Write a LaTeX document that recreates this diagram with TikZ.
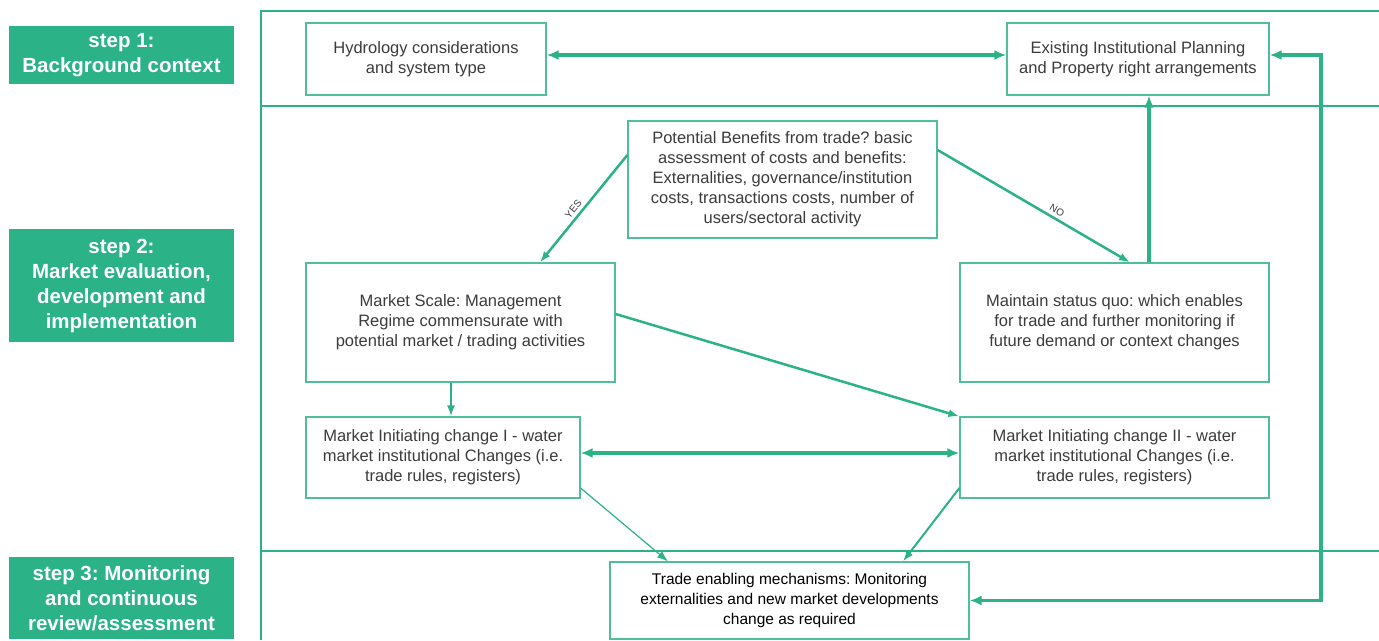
\documentclass[tikz,border=0pt]{standalone}
\usepackage{fontspec}
\setmainfont{Liberation Sans}
\usetikzlibrary{arrows.meta}
\definecolor{grn}{RGB}{43,178,134}
\definecolor{boxgrn}{RGB}{80,190,150}
\definecolor{txt}{RGB}{60,60,60}
\frenchspacing
\begin{document}
\begin{tikzpicture}[x=1pt,y=-1pt,
  box/.style={draw=boxgrn,line width=1.2pt,fill=white,align=center,text=txt,
    font=\fontsize{16.5}{20}\selectfont,inner sep=0pt},
  stepbox/.style={fill=grn,text=white,align=center,inner sep=0pt,
    minimum width=225,font=\bfseries\fontsize{20.5}{25}\selectfont},
  frame/.style={draw=grn,line width=1.5pt},
  conn/.style={draw=grn,-{Latex[length=11pt,width=8pt]}},
  bi/.style={draw=grn,line width=3.5pt,{Latex[length=12pt,width=10pt]}-{Latex[length=12pt,width=10pt]}},
  uni/.style={draw=grn,line width=3.5pt,-{Latex[length=12pt,width=10pt]}},
  lab/.style={font=\fontsize{10}{11}\selectfont,text=txt,sloped,above,inner sep=3pt}
]
\clip (0,0) rectangle (1379,640);
\fill[white] (0,0) rectangle (1379,640);

% frame
\draw[frame] (1379,11) -- (261,11) -- (261,640);
\draw[frame] (261,106) -- (1379,106);
\draw[frame] (261,551) -- (1379,551);

% step labels
\node[stepbox,minimum height=58] (s1) at (121.5,55) {step 1:\\Background context};
\node[stepbox,minimum height=113] (s2) at (121.5,285.5) {step 2:\\Market evaluation,\\development and\\implementation};
\node[stepbox,minimum height=82] (s3) at (121.5,598) {step 3: Monitoring\\and continuous\\review/assessment};

% boxes
\node[box,minimum width=240,minimum height=72] (hyd) at (426,59) {Hydrology considerations\\and system type};
\node[box,minimum width=262,minimum height=72] (ex) at (1138,59) {Existing Institutional Planning\\and Property right arrangements};
\node[box,minimum width=309,minimum height=117] (pot) at (782.5,179.5) {Potential Benefits from trade? basic\\assessment of costs and benefits:\\Externalities, governance/institution\\costs, transactions costs, number of\\users/sectoral activity};
\node[box,minimum width=309,minimum height=119] (ms) at (460.5,322.5) {Market Scale: Management\\Regime commensurate with\\potential market / trading activities};
\node[box,minimum width=309,minimum height=119] (main) at (1114.5,322.5) {Maintain status quo: which enables\\for trade and further monitoring if\\future demand or context changes};
\node[box,minimum width=274,minimum height=81] (mic1) at (443,457.5) {Market Initiating change I - water\\market institutional Changes (i.e.\\trade rules, registers)};
\node[box,minimum width=309,minimum height=81] (mic2) at (1114.5,457.5) {Market Initiating change II - water\\market institutional Changes (i.e.\\trade rules, registers)};
\node[box,minimum width=359,minimum height=77,text=black,font=\fontsize{15.5}{20}\selectfont] (trade) at (789.5,600.5) {Trade enabling mechanisms: Monitoring\\externalities and new market developments\\change as required};

\coordinate (c1) at (1149,0);
\coordinate (rc) at (1321,0);
\coordinate (exr) at ([yshift=4pt]ex.east);

% connectors
\draw[bi] ([yshift=4pt]hyd.east) -- ([yshift=4pt]ex.west);
\draw[uni] (main.north -| c1) -- (ex.south -| c1);
\draw[bi] (trade.east) -- (trade.east -| rc) -- (rc |- exr) -- (exr);
\draw[conn,line width=2.5pt] ([yshift=24.5pt]pot.west) -- node[lab,pos=0.55] {YES} ([xshift=79.5pt]ms.north);
\draw[conn,line width=2.5pt] ([yshift=29.5pt]pot.east) -- node[lab,pos=0.6] {NO} ([xshift=15.5pt]main.north);
\draw[conn,line width=1.8pt] ([xshift=-9.5pt]ms.south) -- ([xshift=8pt]mic1.north);
\draw[conn,line width=2.5pt] ([yshift=8.5pt]ms.east) -- (mic2.north west);
\draw[bi] ([yshift=4.5pt]mic1.east) -- ([yshift=4.5pt]mic2.west);
\draw[conn,line width=1.2pt] ([yshift=-30.5pt]mic1.east) -- ([xshift=-121.5pt]trade.north);
\draw[conn,line width=2pt] ([yshift=-30.5pt]mic2.west) -- ([xshift=113.5pt]trade.north);
\end{tikzpicture}
\end{document}
